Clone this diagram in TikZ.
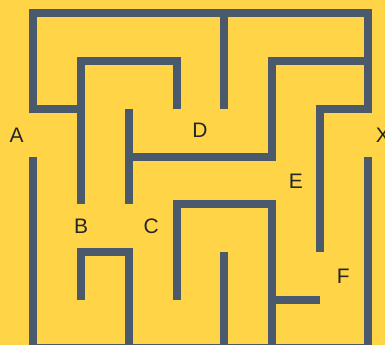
\documentclass[tikz,border=0pt]{standalone}
\usepackage{fontspec}
\setmainfont{Liberation Sans}
\usepackage{xcolor}
\definecolor{mazeYL}{RGB}{255,212,71}
\definecolor{wallGR}{RGB}{74,89,108}

\begin{document}
\begin{tikzpicture}[y=-1cm,
    wall/.style={draw=wallGR,line width=4.75pt,line cap=butt,line join=miter},
    spot/.style={font=\fontsize{12.5pt}{15pt}\selectfont,text=black!85,inner sep=0pt}]
  % background and frame of the page
  \fill[mazeYL] (-0.697,-0.279) rectangle (7.366,6.946);
  \useasboundingbox (-0.697,-0.279) rectangle (7.366,6.946);

  % outer walls
  \draw[wall] (1,2) -- (0,2) -- (0,0) -- (7,0) -- (7,2) -- (6,2) -- (6,5);
  \draw[wall] (0,3) -- (0,7) -- (7,7) -- (7,3);

  % inner walls
  \draw[wall] (1,4) -- (1,1) -- (3,1) -- (3,2);
  \draw[wall] (2,2) -- (2,4);
  \draw[wall] (4,0) -- (4,2);
  \draw[wall] (2,3) -- (5,3) -- (5,1) -- (7,1);
  \draw[wall] (1,6) -- (1,5) -- (2,5) -- (2,7);
  \draw[wall] (3,6) -- (3,4) -- (5,4) -- (5,7);
  \draw[wall] (4,5) -- (4,7);
  \draw[wall] (5,6) -- (6,6);

  % labels
  \node[spot] (ptA) at (-0.35,2.55) {A};
  \node[spot] (ptB) at (1.0,4.47) {B};
  \node[spot] (ptC) at (2.47,4.47) {C};
  \node[spot] (ptD) at (3.49,2.44) {D};
  \node[spot] (ptE) at (5.5,3.51) {E};
  \node[spot] (ptF) at (6.49,5.5) {F};
  \node[spot] (ptX) at (7.32,2.56) {X};
\end{tikzpicture}
\end{document}
